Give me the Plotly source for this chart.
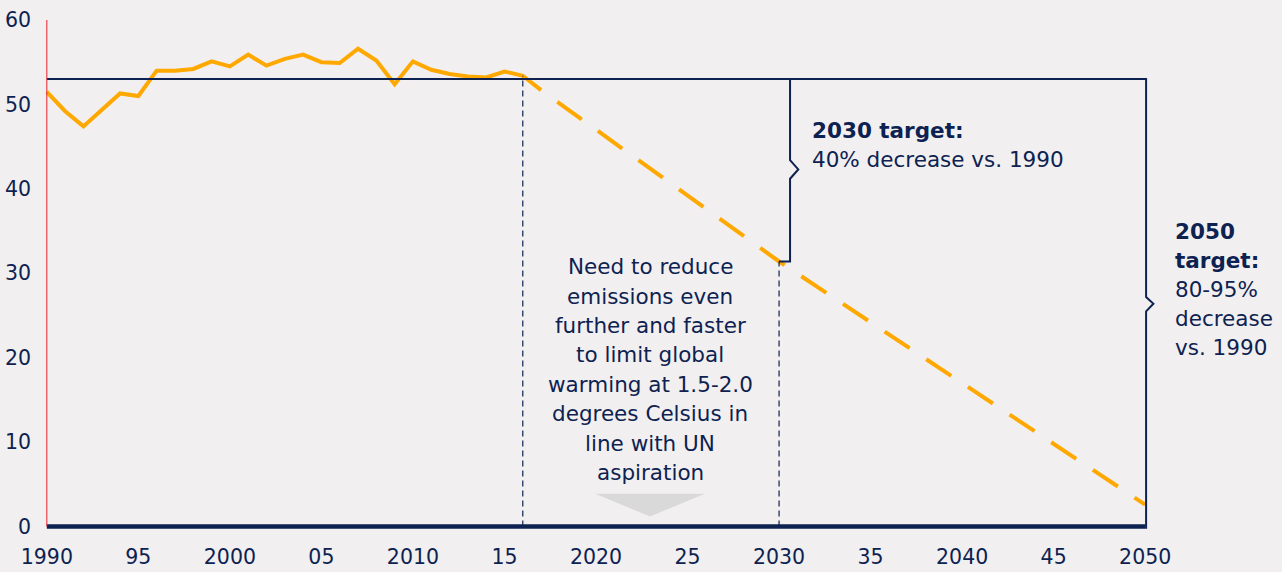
import plotly.graph_objects as go

# ---- data ----
hist_years = list(range(1990, 2018))
hist_values = [51.5, 49.2, 47.4, 49.3, 51.3, 51.0, 54.0, 54.0, 54.2, 55.1,
               54.5, 55.9, 54.6, 55.4, 55.9, 55.0, 54.9, 56.6, 55.2, 52.4,
               55.1, 54.1, 53.6, 53.3, 53.2, 53.9, 53.4, 51.7]
proj_years = [2017, 2030, 2050]
proj_values = [51.7, 31.4, 2.6]
base_level = 53.0
tick_years = list(range(1990, 2051, 5))
tick_labels = ["1990", "95", "2000", "05", "2010", "15", "2020", "25",
               "2030", "35", "2040", "45", "2050"]
y_ticks = [0, 10, 20, 30, 40, 50, 60]
center_lines = ["Need to reduce", "emissions even", "further and faster",
                "to limit global", "warming at 1.5-2.0", "degrees Celsius in",
                "line with UN", "aspiration"]
t2030_lines = ["<b>2030 target:</b>", "40% decrease vs. 1990"]
t2050_lines = ["<b>2050</b>", "<b>target:</b>", "80-95%", "decrease", "vs. 1990"]

NAVY = "#0D2250"
ORANGE = "#FFA800"
BG = "#F2EFF0"
FONT = "DejaVu Sans"
FS = 21.5
TFS = 20.5

fig = go.Figure()
fig.add_trace(go.Scatter(x=hist_years, y=hist_values, mode="lines",
                         line=dict(color=ORANGE, width=4), hoverinfo="skip"))
fig.add_trace(go.Scatter(x=proj_years, y=proj_values, mode="lines",
                         line=dict(color=ORANGE, width=4, dash="0px,20px,30px,0px"),
                         hoverinfo="skip"))

shapes = []
shapes.append(dict(type="line", xref="x", yref="y", x0=1990, x1=2050.05,
                   y0=base_level, y1=base_level, line=dict(color=NAVY, width=2)))
shapes.append(dict(type="line", xref="x", yref="y", x0=1990, x1=2050.0,
                   y0=0, y1=0, line=dict(color=NAVY, width=4.5)))
shapes.append(dict(type="line", xref="x", yref="y", x0=1990, x1=1990,
                   y0=0, y1=60, line=dict(color="#E8202A", width=1)))
shapes.append(dict(type="line", xref="x", yref="y", x0=2016, x1=2016,
                   y0=0, y1=hist_values[hist_years.index(2016)],
                   line=dict(color=NAVY, width=1.2, dash="6px,4px")))
shapes.append(dict(type="line", xref="x", yref="y", x0=2030, x1=2030,
                   y0=0, y1=proj_values[1],
                   line=dict(color=NAVY, width=1.2, dash="6px,4px")))
lo = proj_values[1]
shapes.append(dict(type="path", xref="x", yref="y",
                   path=f"M 2029.7,{base_level} L 2030.6,{base_level} L 2030.6,43.4 "
                        f"L 2031.05,42.3 L 2030.6,41.2 L 2030.6,{lo} L 2030.0,{lo}",
                   line=dict(color=NAVY, width=2)))
shapes.append(dict(type="path", xref="x", yref="y",
                   path=f"M 2049.4,{base_level} L 2050.05,{base_level} L 2050.05,27.2 "
                        f"L 2050.45,26.4 L 2050.05,25.5 L 2050.05,-0.25",
                   line=dict(color=NAVY, width=2)))
shapes.append(dict(type="path", xref="x", yref="y",
                   path="M 2019.95,3.9 L 2025.95,3.9 L 2022.95,1.2 Z",
                   fillcolor="#D9D9D9", line=dict(width=0)))


def ypx(p):
    return (527 - p) / 8.45


annotations = []
for i, t in enumerate(center_lines):
    annotations.append(dict(x=2022.95, y=ypx(267 + i * 29.4), xref="x", yref="y",
                            text=t, showarrow=False, xanchor="center", yanchor="middle",
                            font=dict(family=FONT, size=FS, color=NAVY)))
for i, t in enumerate(t2030_lines):
    annotations.append(dict(x=2031.7, y=ypx(131 + i * 29), xref="x", yref="y",
                            text=t, showarrow=False, xanchor="left", yanchor="middle",
                            font=dict(family=FONT, size=FS, color=NAVY)))
for i, t in enumerate(t2050_lines):
    annotations.append(dict(x=(1173 - 45) / 1113, y=ypx(232 + i * 29), xref="paper",
                            yref="y", text=t, showarrow=False, xanchor="left",
                            yanchor="middle",
                            font=dict(family=FONT, size=FS, color=NAVY)))

fig.update_layout(
    width=1282, height=572,
    margin=dict(l=45, r=124, t=20, b=42, autoexpand=False),
    paper_bgcolor=BG, plot_bgcolor=BG,
    showlegend=False,
    shapes=shapes, annotations=annotations,
    font=dict(family=FONT, size=TFS, color=NAVY),
    xaxis=dict(range=[1989.9, 2050.7], tickmode="array", tickvals=tick_years,
               ticktext=tick_labels, showgrid=False, zeroline=False, showline=False,
               ticks="", ticklabelstandoff=12, automargin=False,
               tickfont=dict(family=FONT, size=TFS, color=NAVY)),
    yaxis=dict(range=[-0.4, 60], tickmode="array", tickvals=y_ticks,
               showgrid=False, zeroline=False, showline=False, ticks="",
               ticklabelstandoff=13, automargin=False,
               tickfont=dict(family=FONT, size=TFS, color=NAVY)),
)

fig.write_html("out.html", config={"displayModeBar": False},
               post_script="document.body.style.margin='0';"
                           "document.body.style.background='" + BG + "';")
